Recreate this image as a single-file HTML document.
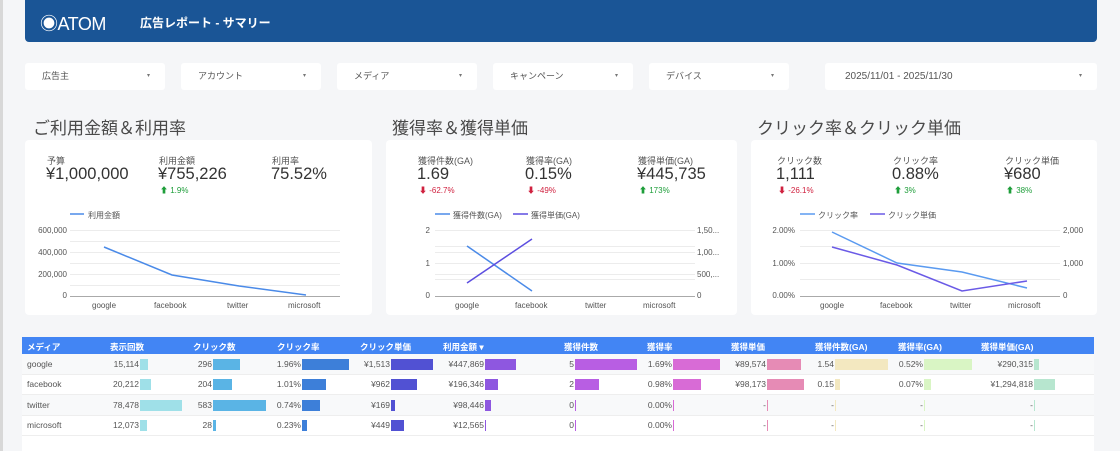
<!DOCTYPE html>
<html><head><meta charset="utf-8"><style>
*{margin:0;padding:0;box-sizing:border-box}
body{width:1120px;height:451px;overflow:hidden;background:#f5f6f8;font-family:"Liberation Sans","Noto Sans CJK JP",sans-serif;position:relative;color:#444}
.a{position:absolute;white-space:nowrap}
.hdr{left:25px;top:0;width:1072px;height:42px;background:#1a5596;border-radius:0 0 4px 4px}
.f{top:63px;height:27px;background:#fff;border-radius:3px;font-size:9px;color:#555;line-height:27px;padding-left:17px}
.f span{position:absolute;right:15px;top:0;font-size:6px;color:#777}
.t{font-size:17px;color:#4a4a4a;top:114px}
.card{top:140px;height:175px;background:#fff;border-radius:4px}
.lb{font-size:9px;color:#555}
.v{font-size:16.5px;color:#333}
.up{font-size:8px;color:#1e9e3a}
.dn{font-size:8px;color:#d0213f}
.ax{font-size:8px;color:#555}
.th{font-size:8.5px;color:#fff;font-weight:bold;top:341px}
.n{font-size:8.5px;color:#555;text-align:right;width:100px}
.b{height:11px}
</style></head><body>
<div class="a" style="left:0;top:0;width:3px;height:451px;background:#d8d8d8"></div>
<div class="a hdr"></div>
<div class="a" style="left:40px;top:10px;font-size:18px;color:#fff;letter-spacing:-0.5px">◉ATOM</div>
<div class="a" style="left:140px;top:14px;font-size:12px;color:#fff;font-weight:bold">広告レポート - サマリー</div>

<div class="a f" style="left:25px;width:140px">広告主<span>▾</span></div>
<div class="a f" style="left:181px;width:140px">アカウント<span>▾</span></div>
<div class="a f" style="left:337px;width:140px">メディア<span>▾</span></div>
<div class="a f" style="left:493px;width:140px">キャンペーン<span>▾</span></div>
<div class="a f" style="left:649px;width:140px">デバイス<span>▾</span></div>
<div class="a f" style="left:825px;width:272px;font-size:10px;padding-left:20px">2025/11/01 - 2025/11/30<span>▾</span></div>

<div class="a t" style="left:33px">ご利用金額＆利用率</div>
<div class="a t" style="left:392px">獲得率＆獲得単価</div>
<div class="a t" style="left:757px">クリック率＆クリック単価</div>

<div class="a card" style="left:25px;width:347px"></div>
<div class="a card" style="left:386px;width:351px"></div>
<div class="a card" style="left:751px;width:346px"></div>

<!-- card1 -->
<div class="a lb" style="left:47px;top:154px">予算</div>
<div class="a v" style="left:46px;top:165px">¥1,000,000</div>
<div class="a lb" style="left:159px;top:154px">利用金額</div>
<div class="a v" style="left:158px;top:165px">¥755,226</div>
<div class="a up" style="left:160px;top:185px">⬆ 1.9%</div>
<div class="a lb" style="left:272px;top:154px">利用率</div>
<div class="a v" style="left:271px;top:165px">75.52%</div>
<!-- card2 -->
<div class="a lb" style="left:418px;top:154px">獲得件数(GA)</div>
<div class="a v" style="left:417px;top:165px">1.69</div>
<div class="a dn" style="left:419px;top:185px">⬇ -62.7%</div>
<div class="a lb" style="left:526px;top:154px">獲得率(GA)</div>
<div class="a v" style="left:525px;top:165px">0.15%</div>
<div class="a dn" style="left:527px;top:185px">⬇ -49%</div>
<div class="a lb" style="left:638px;top:154px">獲得単価(GA)</div>
<div class="a v" style="left:637px;top:165px">¥445,735</div>
<div class="a up" style="left:639px;top:185px">⬆ 173%</div>
<!-- card3 -->
<div class="a lb" style="left:777px;top:154px">クリック数</div>
<div class="a v" style="left:776px;top:165px">1,111</div>
<div class="a dn" style="left:778px;top:185px">⬇ -26.1%</div>
<div class="a lb" style="left:893px;top:154px">クリック率</div>
<div class="a v" style="left:892px;top:165px">0.88%</div>
<div class="a up" style="left:894px;top:185px">⬆ 3%</div>
<div class="a lb" style="left:1005px;top:154px">クリック単価</div>
<div class="a v" style="left:1004px;top:165px">¥680</div>
<div class="a up" style="left:1006px;top:185px">⬆ 38%</div>

<svg class="a" style="left:0;top:0" width="1120" height="451">
<g stroke="#ececec" stroke-width="1">
<line x1="70" y1="230.5" x2="340" y2="230.5"/><line x1="70" y1="241.5" x2="340" y2="241.5"/><line x1="70" y1="252.5" x2="340" y2="252.5"/><line x1="70" y1="263.5" x2="340" y2="263.5"/><line x1="70" y1="274.5" x2="340" y2="274.5"/><line x1="70" y1="285.5" x2="340" y2="285.5"/>
<line x1="435" y1="230.5" x2="695" y2="230.5"/><line x1="435" y1="246.5" x2="695" y2="246.5"/><line x1="435" y1="263.5" x2="695" y2="263.5"/><line x1="435" y1="279.5" x2="695" y2="279.5"/><line x1="435" y1="252.5" x2="695" y2="252.5"/><line x1="435" y1="274.5" x2="695" y2="274.5"/>
<line x1="800" y1="230.5" x2="1060" y2="230.5"/><line x1="800" y1="246.5" x2="1060" y2="246.5"/><line x1="800" y1="263.5" x2="1060" y2="263.5"/><line x1="800" y1="279.5" x2="1060" y2="279.5"/>
</g>
<g stroke="#aaa"><line x1="70" y1="296.5" x2="340" y2="296.5"/><line x1="435" y1="296.5" x2="695" y2="296.5"/><line x1="800" y1="296.5" x2="1060" y2="296.5"/></g>
<g fill="none" stroke-width="1.5">
<line x1="70" y1="214" x2="84" y2="214" stroke="#4a8ae8"/>
<polyline points="104,247 172,275 239,286 306,295" stroke="#4a8ae8"/>
<line x1="435" y1="214" x2="450" y2="214" stroke="#4a8ae8"/>
<line x1="513" y1="214" x2="528" y2="214" stroke="#5c4ee0"/>
<polyline points="467,246 532,291" stroke="#4a8ae8"/>
<polyline points="467,283 532,239" stroke="#5c4ee0"/>
<line x1="800" y1="214" x2="815" y2="214" stroke="#5a9af0"/>
<line x1="870" y1="214" x2="885" y2="214" stroke="#6a5ae6"/>
<polyline points="832,232 897,263 962,272 1027,288" stroke="#5a9af0"/>
<polyline points="832,247 897,265 962,291 1027,281" stroke="#6a5ae6"/>
</g>
</svg>
<div class="a ax" style="left:88px;top:210px">利用金額</div>
<div class="a ax" style="left:453px;top:210px">獲得件数(GA)</div>
<div class="a ax" style="left:531px;top:210px">獲得単価(GA)</div>
<div class="a ax" style="left:818px;top:210px">クリック率</div>
<div class="a ax" style="left:888px;top:210px">クリック単価</div>

<div class="a ax" style="left:17px;width:50px;text-align:right;top:226px">600,000</div>
<div class="a ax" style="left:17px;width:50px;text-align:right;top:248px">400,000</div>
<div class="a ax" style="left:17px;width:50px;text-align:right;top:270px">200,000</div>
<div class="a ax" style="left:17px;width:50px;text-align:right;top:291px">0</div>
<div class="a ax" style="left:92px;top:301px">google</div><div class="a ax" style="left:154px;top:301px">facebook</div><div class="a ax" style="left:227px;top:301px">twitter</div><div class="a ax" style="left:288px;top:301px">microsoft</div>

<div class="a ax" style="left:410px;width:20px;text-align:right;top:226px">2</div>
<div class="a ax" style="left:410px;width:20px;text-align:right;top:259px">1</div>
<div class="a ax" style="left:410px;width:20px;text-align:right;top:291px">0</div>
<div class="a ax" style="left:697px;top:226px">1,50...</div><div class="a ax" style="left:697px;top:248px">1,00...</div><div class="a ax" style="left:697px;top:270px">500,...</div><div class="a ax" style="left:697px;top:291px">0</div>
<div class="a ax" style="left:455px;top:301px">google</div><div class="a ax" style="left:515px;top:301px">facebook</div><div class="a ax" style="left:585px;top:301px">twitter</div><div class="a ax" style="left:643px;top:301px">microsoft</div>

<div class="a ax" style="left:760px;width:35px;text-align:right;top:226px">2.00%</div>
<div class="a ax" style="left:760px;width:35px;text-align:right;top:259px">1.00%</div>
<div class="a ax" style="left:760px;width:35px;text-align:right;top:291px">0.00%</div>
<div class="a ax" style="left:1063px;top:226px">2,000</div><div class="a ax" style="left:1063px;top:259px">1,000</div><div class="a ax" style="left:1063px;top:291px">0</div>
<div class="a ax" style="left:820px;top:301px">google</div><div class="a ax" style="left:880px;top:301px">facebook</div><div class="a ax" style="left:950px;top:301px">twitter</div><div class="a ax" style="left:1008px;top:301px">microsoft</div>

<!-- table -->
<div class="a" style="left:22px;top:337px;width:1072px;height:114px;background:#fff"></div>
<div class="a" style="left:22px;top:337px;width:1072px;height:17px;background:#4285f4"></div>
<div class="a" style="left:22px;top:354px;width:1072px;height:21px;background:#f8f9fa;border-bottom:1px solid #eee"></div>
<div class="a" style="left:22px;top:375px;width:1072px;height:20px;border-bottom:1px solid #eee"></div>
<div class="a" style="left:22px;top:395px;width:1072px;height:21px;background:#f8f9fa;border-bottom:1px solid #eee"></div>
<div class="a" style="left:22px;top:416px;width:1072px;height:20px;border-bottom:1px solid #eee"></div>

<div class="a th" style="left:27px">メディア</div>
<div class="a th" style="left:110px">表示回数</div>
<div class="a th" style="left:193px">クリック数</div>
<div class="a th" style="left:277px">クリック率</div>
<div class="a th" style="left:360px">クリック単価</div>
<div class="a th" style="left:443px">利用金額 ▾</div>
<div class="a th" style="left:564px">獲得件数</div>
<div class="a th" style="left:647px">獲得率</div>
<div class="a th" style="left:731px">獲得単価</div>
<div class="a th" style="left:815px">獲得件数(GA)</div>
<div class="a th" style="left:898px">獲得率(GA)</div>
<div class="a th" style="left:981px">獲得単価(GA)</div>

<div class="a n" style="left:27px;top:359px;text-align:left">google</div>
<div class="a n" style="left:27px;top:379px;text-align:left">facebook</div>
<div class="a n" style="left:27px;top:400px;text-align:left">twitter</div>
<div class="a n" style="left:27px;top:420px;text-align:left">microsoft</div>

<div class="a n" style="left:39px;top:359px">15,114</div><div class="a b" style="left:140px;top:359px;width:8px;background:#9fe0e8"></div>
<div class="a n" style="left:39px;top:379px">20,212</div><div class="a b" style="left:140px;top:379px;width:11px;background:#9fe0e8"></div>
<div class="a n" style="left:39px;top:400px">78,478</div><div class="a b" style="left:140px;top:400px;width:42px;background:#9fe0e8"></div>
<div class="a n" style="left:39px;top:420px">12,073</div><div class="a b" style="left:140px;top:420px;width:7px;background:#9fe0e8"></div>
<div class="a n" style="left:112px;top:359px">296</div><div class="a b" style="left:213px;top:359px;width:27px;background:#5ab4e5"></div>
<div class="a n" style="left:112px;top:379px">204</div><div class="a b" style="left:213px;top:379px;width:19px;background:#5ab4e5"></div>
<div class="a n" style="left:112px;top:400px">583</div><div class="a b" style="left:213px;top:400px;width:53px;background:#5ab4e5"></div>
<div class="a n" style="left:112px;top:420px">28</div><div class="a b" style="left:213px;top:420px;width:3px;background:#5ab4e5"></div>
<div class="a n" style="left:201px;top:359px">1.96%</div><div class="a b" style="left:302px;top:359px;width:47px;background:#3d7fd9"></div>
<div class="a n" style="left:201px;top:379px">1.01%</div><div class="a b" style="left:302px;top:379px;width:24px;background:#3d7fd9"></div>
<div class="a n" style="left:201px;top:400px">0.74%</div><div class="a b" style="left:302px;top:400px;width:18px;background:#3d7fd9"></div>
<div class="a n" style="left:201px;top:420px">0.23%</div><div class="a b" style="left:302px;top:420px;width:5px;background:#3d7fd9"></div>
<div class="a n" style="left:290px;top:359px">¥1,513</div><div class="a b" style="left:391px;top:359px;width:42px;background:#5151d3"></div>
<div class="a n" style="left:290px;top:379px">¥962</div><div class="a b" style="left:391px;top:379px;width:26px;background:#5151d3"></div>
<div class="a n" style="left:290px;top:400px">¥169</div><div class="a b" style="left:391px;top:400px;width:4px;background:#5151d3"></div>
<div class="a n" style="left:290px;top:420px">¥449</div><div class="a b" style="left:391px;top:420px;width:13px;background:#5151d3"></div>
<div class="a n" style="left:384px;top:359px">¥447,869</div><div class="a b" style="left:485px;top:359px;width:31px;background:#8e57e0"></div>
<div class="a n" style="left:384px;top:379px">¥196,346</div><div class="a b" style="left:485px;top:379px;width:13px;background:#8e57e0"></div>
<div class="a n" style="left:384px;top:400px">¥98,446</div><div class="a b" style="left:485px;top:400px;width:6px;background:#8e57e0"></div>
<div class="a n" style="left:384px;top:420px">¥12,565</div><div class="a b" style="left:485px;top:420px;width:1px;background:#8e57e0"></div>
<div class="a n" style="left:474px;top:359px">5</div><div class="a b" style="left:575px;top:359px;width:62px;background:#b85ee3"></div>
<div class="a n" style="left:474px;top:379px">2</div><div class="a b" style="left:575px;top:379px;width:24px;background:#b85ee3"></div>
<div class="a n" style="left:474px;top:400px">0</div><div class="a b" style="left:575px;top:400px;width:1px;background:#b85ee3"></div>
<div class="a n" style="left:474px;top:420px">0</div><div class="a b" style="left:575px;top:420px;width:1px;background:#b85ee3"></div>
<div class="a n" style="left:572px;top:359px">1.69%</div><div class="a b" style="left:673px;top:359px;width:47px;background:#d86bd6"></div>
<div class="a n" style="left:572px;top:379px">0.98%</div><div class="a b" style="left:673px;top:379px;width:28px;background:#d86bd6"></div>
<div class="a n" style="left:572px;top:400px">0.00%</div><div class="a b" style="left:673px;top:400px;width:1px;background:#d86bd6"></div>
<div class="a n" style="left:572px;top:420px">0.00%</div><div class="a b" style="left:673px;top:420px;width:1px;background:#d86bd6"></div>
<div class="a n" style="left:666px;top:359px">¥89,574</div><div class="a b" style="left:767px;top:359px;width:34px;background:#e68bb5"></div>
<div class="a n" style="left:666px;top:379px">¥98,173</div><div class="a b" style="left:767px;top:379px;width:37px;background:#e68bb5"></div>
<div class="a n" style="left:666px;top:400px">-</div><div class="a b" style="left:767px;top:400px;width:1px;background:#e68bb5"></div>
<div class="a n" style="left:666px;top:420px">-</div><div class="a b" style="left:767px;top:420px;width:1px;background:#e68bb5"></div>
<div class="a n" style="left:734px;top:359px">1.54</div><div class="a b" style="left:835px;top:359px;width:53px;background:#f3e8c0"></div>
<div class="a n" style="left:734px;top:379px">0.15</div><div class="a b" style="left:835px;top:379px;width:5px;background:#f3e8c0"></div>
<div class="a n" style="left:734px;top:400px">-</div><div class="a b" style="left:835px;top:400px;width:1px;background:#f3e8c0"></div>
<div class="a n" style="left:734px;top:420px">-</div><div class="a b" style="left:835px;top:420px;width:1px;background:#f3e8c0"></div>
<div class="a n" style="left:823px;top:359px">0.52%</div><div class="a b" style="left:924px;top:359px;width:48px;background:#d9f5c4"></div>
<div class="a n" style="left:823px;top:379px">0.07%</div><div class="a b" style="left:924px;top:379px;width:7px;background:#d9f5c4"></div>
<div class="a n" style="left:823px;top:400px">-</div><div class="a b" style="left:924px;top:400px;width:1px;background:#d9f5c4"></div>
<div class="a n" style="left:823px;top:420px">-</div><div class="a b" style="left:924px;top:420px;width:1px;background:#d9f5c4"></div>
<div class="a n" style="left:933px;top:359px">¥290,315</div><div class="a b" style="left:1034px;top:359px;width:5px;background:#b7e6cf"></div>
<div class="a n" style="left:933px;top:379px">¥1,294,818</div><div class="a b" style="left:1034px;top:379px;width:21px;background:#b7e6cf"></div>
<div class="a n" style="left:933px;top:400px">-</div><div class="a b" style="left:1034px;top:400px;width:1px;background:#b7e6cf"></div>
<div class="a n" style="left:933px;top:420px">-</div><div class="a b" style="left:1034px;top:420px;width:1px;background:#b7e6cf"></div>
</body></html>
